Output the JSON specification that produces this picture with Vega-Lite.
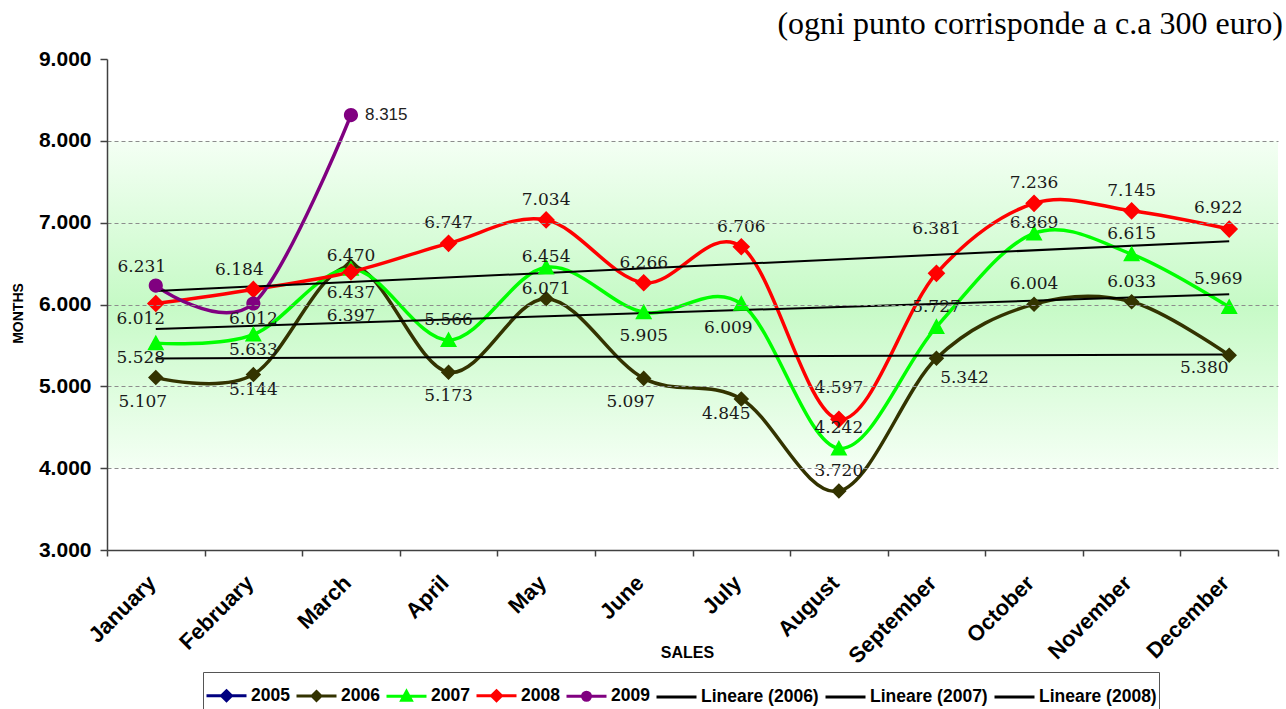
{
  "$schema": "https://vega.github.io/schema/vega-lite/v6.json",
  "width": 1171,
  "height": 491,
  "autosize": {"type": "none"},
  "padding": {"left": 107, "top": 59, "right": 8, "bottom": 159},
  "title": {
    "text": "(ogni punto corrisponde a c.a 300 euro)",
    "anchor": "end",
    "frame": "group",
    "orient": "top",
    "font": "Liberation Serif",
    "fontSize": 32,
    "fontWeight": "normal",
    "color": "#000000",
    "baseline": "alphabetic",
    "offset": -18,
    "dx": 5
  },
  "config": {
    "view": {"stroke": null},
    "locale": {"number": {"decimal": ",", "thousands": ".", "grouping": [3], "currency": ["", " €"]}}
  },
  "datasets": {
    "sales": [
      {"month": "January", "series": "2006", "value": 5107},
      {"month": "February", "series": "2006", "value": 5144},
      {"month": "March", "series": "2006", "value": 6470},
      {"month": "April", "series": "2006", "value": 5173},
      {"month": "May", "series": "2006", "value": 6071},
      {"month": "June", "series": "2006", "value": 5097},
      {"month": "July", "series": "2006", "value": 4845},
      {"month": "August", "series": "2006", "value": 3720},
      {"month": "September", "series": "2006", "value": 5342},
      {"month": "October", "series": "2006", "value": 6004},
      {"month": "November", "series": "2006", "value": 6033},
      {"month": "December", "series": "2006", "value": 5380},
      {"month": "January", "series": "2007", "value": 5528},
      {"month": "February", "series": "2007", "value": 5633},
      {"month": "March", "series": "2007", "value": 6437},
      {"month": "April", "series": "2007", "value": 5566},
      {"month": "May", "series": "2007", "value": 6454},
      {"month": "June", "series": "2007", "value": 5905},
      {"month": "July", "series": "2007", "value": 6009},
      {"month": "August", "series": "2007", "value": 4242},
      {"month": "September", "series": "2007", "value": 5727},
      {"month": "October", "series": "2007", "value": 6869},
      {"month": "November", "series": "2007", "value": 6615},
      {"month": "December", "series": "2007", "value": 5969},
      {"month": "January", "series": "2008", "value": 6012},
      {"month": "February", "series": "2008", "value": 6184},
      {"month": "March", "series": "2008", "value": 6397},
      {"month": "April", "series": "2008", "value": 6747},
      {"month": "May", "series": "2008", "value": 7034},
      {"month": "June", "series": "2008", "value": 6266},
      {"month": "July", "series": "2008", "value": 6706},
      {"month": "August", "series": "2008", "value": 4597},
      {"month": "September", "series": "2008", "value": 6381},
      {"month": "October", "series": "2008", "value": 7236},
      {"month": "November", "series": "2008", "value": 7145},
      {"month": "December", "series": "2008", "value": 6922},
      {"month": "January", "series": "2009", "value": 6231},
      {"month": "February", "series": "2009", "value": 6012},
      {"month": "March", "series": "2009", "value": 8315},
      {"month": "January", "series": "Lineare (2006)", "value": 5341},
      {"month": "December", "series": "Lineare (2006)", "value": 5390},
      {"month": "January", "series": "Lineare (2007)", "value": 5702},
      {"month": "December", "series": "Lineare (2007)", "value": 6124},
      {"month": "January", "series": "Lineare (2008)", "value": 6165},
      {"month": "December", "series": "Lineare (2008)", "value": 6773}
    ],
    "band": [{"from": 8000, "to": 4000}]
  },
  "layer": [
    {
      "data": {"name": "band"},
      "mark": {
        "type": "rect",
        "color": {
          "gradient": "linear", "x1": 0, "y1": 0, "x2": 0, "y2": 1,
          "stops": [
            {"offset": 0, "color": "#f4fff4"},
            {"offset": 0.5, "color": "#c6fac6"},
            {"offset": 1, "color": "#f4fff4"}
          ]
        }
      },
      "encoding": {
        "y": {"field": "from", "type": "quantitative", "title": "MONTHS", "scale": {"domain": [3000, 9000]}},
        "y2": {"field": "to"}
      }
    },
    {
      "data": {"name": "sales"},
      "encoding": {
        "x": {
          "field": "month", "type": "nominal",
          "sort": ["January", "February", "March", "April", "May", "June", "July", "August", "September", "October", "November", "December"],
          "scale": {"type": "band", "paddingInner": 0, "paddingOuter": 0,
            "domain": ["January", "February", "March", "April", "May", "June", "July", "August", "September", "October", "November", "December"]},
          "axis": {
            "title": "SALES", "titleFont": "Liberation Sans", "titleFontSize": 16, "titleFontWeight": "bold", "titleColor": "#000",
            "titleX": 580, "titleY": 107, "titleAlign": "center", "titleBaseline": "alphabetic",
            "labelAngle": -45, "labelAlign": "right", "labelBaseline": "middle",
            "labelFont": "Liberation Sans", "labelFontSize": 22, "labelFontWeight": "bold", "labelColor": "#000",
            "labelPadding": 23, "labelOffset": -4, "tickBand": "extent", "tickSize": 6, "tickColor": "#404040", "tickWidth": 1.5,
            "domainColor": "#404040", "domainWidth": 1.5, "grid": false
          }
        },
        "y": {
          "field": "value", "type": "quantitative", "title": "MONTHS",
          "scale": {"domain": [3000, 9000]},
          "axis": {
            "titleFont": "Liberation Sans", "titleFontSize": 14, "titleFontWeight": "bold", "titleColor": "#000",
            "titleAngle": -90, "titleX": -89, "titleY": 254, "titleAlign": "center", "titleBaseline": "middle",
            "values": [3000, 4000, 5000, 6000, 7000, 8000, 9000], "format": ",d",
            "labelFont": "Liberation Sans", "labelFontSize": 21, "labelFontWeight": "bold", "labelColor": "#000",
            "labelPadding": 9, "tickSize": 7, "tickColor": "#404040", "tickWidth": 1.5,
            "domainColor": "#404040", "domainWidth": 1.5,
            "grid": true, "gridColor": "#8c8c8c", "gridDash": [4, 3], "gridWidth": 1,
            "gridOpacity": {"condition": {"test": "datum.value === 3000 || datum.value === 9000", "value": 0}, "value": 1},
            "zindex": 1
          }
        }
      },
      "layer": [
        {
          "transform": [{"filter": "indexof(['2006','2007','2008','2009'], datum.series) >= 0"}],
          "mark": {"type": "line", "interpolate": "cardinal", "strokeWidth": 3.5},
          "encoding": {
            "color": {"field": "series", "type": "nominal",
              "scale": {"domain": ["2005", "2006", "2007", "2008", "2009", "Lineare (2006)", "Lineare (2007)", "Lineare (2008)"],
                "range": ["#000080", "#333300", "#00ff00", "#ff0000", "#800080", "#000000", "#000000", "#000000"]}}
          }
        },
        {
          "transform": [{"filter": "indexof(datum.series, 'Lineare') === 0"}],
          "mark": {"type": "line", "strokeWidth": 2},
          "encoding": {
            "color": {"field": "series", "type": "nominal",
              "scale": {"domain": ["2005", "2006", "2007", "2008", "2009", "Lineare (2006)", "Lineare (2007)", "Lineare (2008)"],
                "range": ["#000080", "#333300", "#00ff00", "#ff0000", "#800080", "#000000", "#000000", "#000000"]}}
          }
        },
        {
          "transform": [{"filter": "indexof(['2006','2007','2008','2009'], datum.series) >= 0"}],
          "mark": {"type": "point", "filled": true, "size": 5000, "opacity": 1, "strokeWidth": 0},
          "encoding": {
            "color": {"field": "series", "type": "nominal",
              "scale": {"domain": ["2005", "2006", "2007", "2008", "2009", "Lineare (2006)", "Lineare (2007)", "Lineare (2008)"],
                "range": ["#000080", "#333300", "#00ff00", "#ff0000", "#800080", "#000000", "#000000", "#000000"]},
              "legend": {
                "title": null, "orient": "none", "legendX": 96, "legendY": 613, "direction": "horizontal", "columns": 8,
                "strokeColor": "#555555", "padding": 2, "fillColor": "#ffffff",
                "labelFont": "Liberation Sans", "labelFontSize": 17.5, "labelFontWeight": "bold", "labelColor": "#000",
                "labelOffset": 3, "columnPadding": 0, "symbolSize": 1600, "symbolStrokeWidth": 3,
                "encode": {
                  "legend": {"update": {"strokeWidth": {"value": 1.5}}},
                  "symbols": {"update": {
                    "stroke": {"scale": "color", "field": "value"},
                    "fill": {"scale": "color", "field": "value"},
                    "strokeWidth": {"value": 3},
                    "size": {"value": 1600},
                    "opacity": {"value": 1}
                  }}
                }
              }
            },
            "shape": {"field": "series", "type": "nominal", "legend": {"title": null},
              "scale": {"domain": ["2005", "2006", "2007", "2008", "2009", "Lineare (2006)", "Lineare (2007)", "Lineare (2008)"],
                "range": [
                  "M-1,0H1M0,-0.25L0.25,0L0,0.25L-0.25,0Z",
                  "M-1,0H1M0,-0.22L0.22,0L0,0.22L-0.22,0Z",
                  "M-1,0H1M0,-0.24L0.24,0.2L-0.24,0.2Z",
                  "M-1,0H1M0,-0.25L0.25,0L0,0.25L-0.25,0Z",
                  "M-1,0H1M-0.2,0A0.2,0.2 0 1 1 0.2,0A0.2,0.2 0 1 1 -0.2,0Z",
                  "M-1,0H1",
                  "M-1,0H1",
                  "M-1,0H1"
                ]}}
          }
        },
        {
          "transform": [{"filter": "indexof(['2006 August','2006 October','2006 November','2007 April','2007 August','2007 September','2007 November','2008 April','2008 May','2008 June','2008 July','2008 October','2008 November'], datum.series + ' ' + datum.month) >= 0"}],
          "mark": {"type": "text", "font": "DejaVu Serif", "fontSize": 17, "color": "#1a1a1a", "baseline": "middle", "dy": -20},
          "encoding": {"text": {"field": "value", "type": "quantitative", "format": ",d"}}
        },
        {
          "transform": [{"filter": "indexof(['2008 February','2009 January'], datum.series + ' ' + datum.month) >= 0"}],
          "mark": {"type": "text", "font": "DejaVu Serif", "fontSize": 17, "color": "#1a1a1a", "baseline": "middle", "dy": -19, "dx": -14},
          "encoding": {"text": {"field": "value", "type": "quantitative", "format": ",d"}}
        },
        {
          "transform": [{"filter": "indexof(['2008 August'], datum.series + ' ' + datum.month) >= 0"}],
          "mark": {"type": "text", "font": "DejaVu Serif", "fontSize": 17, "color": "#1a1a1a", "baseline": "middle", "dy": -31},
          "encoding": {"text": {"field": "value", "type": "quantitative", "format": ",d"}}
        },
        {
          "transform": [{"filter": "indexof(['2007 December'], datum.series + ' ' + datum.month) >= 0"}],
          "mark": {"type": "text", "font": "DejaVu Serif", "fontSize": 17, "color": "#1a1a1a", "baseline": "middle", "dy": -28, "dx": -11},
          "encoding": {"text": {"field": "value", "type": "quantitative", "format": ",d"}}
        },
        {
          "transform": [{"filter": "indexof(['2008 December'], datum.series + ' ' + datum.month) >= 0"}],
          "mark": {"type": "text", "font": "DejaVu Serif", "fontSize": 17, "color": "#1a1a1a", "baseline": "middle", "dy": -21, "dx": -11},
          "encoding": {"text": {"field": "value", "type": "quantitative", "format": ",d"}}
        },
        {
          "transform": [{"filter": "indexof(['2006 March','2006 May','2007 May','2007 October'], datum.series + ' ' + datum.month) >= 0"}],
          "mark": {"type": "text", "font": "DejaVu Serif", "fontSize": 17, "color": "#1a1a1a", "baseline": "middle", "dy": -10},
          "encoding": {"text": {"field": "value", "type": "quantitative", "format": ",d"}}
        },
        {
          "transform": [{"filter": "indexof(['2008 September'], datum.series + ' ' + datum.month) >= 0"}],
          "mark": {"type": "text", "font": "DejaVu Serif", "fontSize": 17, "color": "#1a1a1a", "baseline": "middle", "dy": -44},
          "encoding": {"text": {"field": "value", "type": "quantitative", "format": ",d"}}
        },
        {
          "transform": [{"filter": "indexof(['2006 February','2007 February','2009 February'], datum.series + ' ' + datum.month) >= 0"}],
          "mark": {"type": "text", "font": "DejaVu Serif", "fontSize": 17, "color": "#1a1a1a", "baseline": "middle", "dy": 15},
          "encoding": {"text": {"field": "value", "type": "quantitative", "format": ",d"}}
        },
        {
          "transform": [{"filter": "indexof(['2006 July','2007 January','2008 January'], datum.series + ' ' + datum.month) >= 0"}],
          "mark": {"type": "text", "font": "DejaVu Serif", "fontSize": 17, "color": "#1a1a1a", "baseline": "middle", "dy": 15, "dx": -15},
          "encoding": {"text": {"field": "value", "type": "quantitative", "format": ",d"}}
        },
        {
          "transform": [{"filter": "indexof(['2006 December'], datum.series + ' ' + datum.month) >= 0"}],
          "mark": {"type": "text", "font": "DejaVu Serif", "fontSize": 17, "color": "#1a1a1a", "baseline": "middle", "dy": 13, "dx": -25},
          "encoding": {"text": {"field": "value", "type": "quantitative", "format": ",d"}}
        },
        {
          "transform": [{"filter": "indexof(['2006 April','2007 March','2007 June'], datum.series + ' ' + datum.month) >= 0"}],
          "mark": {"type": "text", "font": "DejaVu Serif", "fontSize": 17, "color": "#1a1a1a", "baseline": "middle", "dy": 24},
          "encoding": {"text": {"field": "value", "type": "quantitative", "format": ",d"}}
        },
        {
          "transform": [{"filter": "indexof(['2006 January','2006 June','2007 July'], datum.series + ' ' + datum.month) >= 0"}],
          "mark": {"type": "text", "font": "DejaVu Serif", "fontSize": 17, "color": "#1a1a1a", "baseline": "middle", "dy": 24, "dx": -13},
          "encoding": {"text": {"field": "value", "type": "quantitative", "format": ",d"}}
        },
        {
          "transform": [{"filter": "indexof(['2006 September'], datum.series + ' ' + datum.month) >= 0"}],
          "mark": {"type": "text", "font": "DejaVu Serif", "fontSize": 17, "color": "#1a1a1a", "baseline": "middle", "dy": 20, "dx": 28},
          "encoding": {"text": {"field": "value", "type": "quantitative", "format": ",d"}}
        },
        {
          "transform": [{"filter": "indexof(['2008 March'], datum.series + ' ' + datum.month) >= 0"}],
          "mark": {"type": "text", "font": "DejaVu Serif", "fontSize": 17, "color": "#1a1a1a", "baseline": "middle", "dy": 44},
          "encoding": {"text": {"field": "value", "type": "quantitative", "format": ",d"}}
        },
        {
          "transform": [{"filter": "indexof(['2009 March'], datum.series + ' ' + datum.month) >= 0"}],
          "mark": {"type": "text", "font": "Liberation Sans", "fontSize": 17, "color": "#222222", "baseline": "middle", "align": "left", "dx": 14},
          "encoding": {"text": {"field": "value", "type": "quantitative", "format": ",d"}}
        }
      ]
    }
  ]
}
